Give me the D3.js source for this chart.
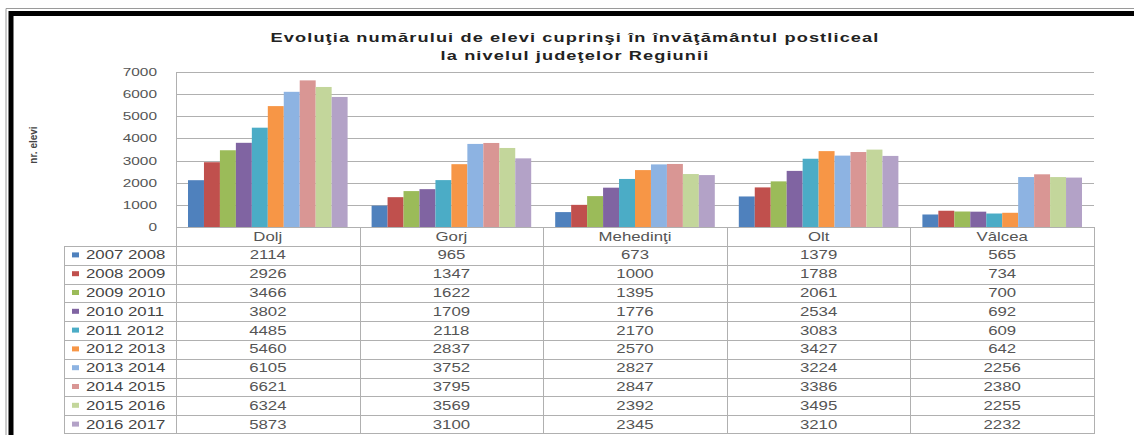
<!DOCTYPE html>
<html>
<head>
<meta charset="utf-8">
<script src="https://cdn.jsdelivr.net/npm/d3@7"></script>
<style>
  body { margin: 0; background: #fff; }
  svg { display: block; font-family: "Liberation Sans", Arial, sans-serif; }
</style>
</head>
<body>
<svg id="chart" width="1134" height="435"></svg>
<script>
(function () {
  // Data.
  let counties = ["Dolj", "Gorj", "Mehedinţi", "Olt", "Vâlcea"];
  let years = ["2007 2008", "2008 2009", "2009 2010", "2010 2011", "2011 2012",
    "2012 2013", "2013 2014", "2014 2015", "2015 2016", "2016 2017"];
  let dolj = [2114, 2926, 3466, 3802, 4485, 5460, 6105, 6621, 6324, 5873];
  let gorj = [965, 1347, 1622, 1709, 2118, 2837, 3752, 3795, 3569, 3100];
  let mehedinti = [673, 1000, 1395, 1776, 2170, 2570, 2827, 2847, 2392, 2345];
  let olt = [1379, 1788, 2061, 2534, 3083, 3427, 3224, 3386, 3495, 3210];
  let valcea = [565, 734, 700, 692, 609, 642, 2256, 2380, 2255, 2232];
  let yTicks = [0, 1000, 2000, 3000, 4000, 5000, 6000, 7000];
  let colors = ["#4f81bd", "#c0504d", "#9bbb59", "#8064a2", "#4bacc6",
    "#f79646", "#8db3e2", "#d99694", "#c3d69b", "#b3a2c7"];

  let values = [dolj, gorj, mehedinti, olt, valcea];
  let sx = 1.4; // the picture is stretched horizontally

  let svg = d3.select("#chart");

  // Frame.
  svg.append("path").attr("d", "M6,435 V8.5 H1134").attr("fill", "none")
    .attr("stroke", "#9a9a9a").attr("stroke-width", 1);
  svg.append("path").attr("d", "M11,435 V13.5 H1134").attr("fill", "none")
    .attr("stroke", "#000").attr("stroke-width", 5);

  // Title.
  function stretchedText(g, x, y, txt) {
    return g.append("text")
      .attr("transform", `translate(${x},${y}) scale(${sx},1)`)
      .text(txt);
  }
  let title = svg.append("g").attr("font-weight", "bold").attr("font-size", 13)
    .attr("fill", "#222").attr("text-anchor", "middle").attr("letter-spacing", 0.8);
  stretchedText(title, 575, 42, "Evoluţia numărului de elevi cuprinşi în învăţământul postliceal");
  stretchedText(title, 575, 60, "la nivelul judeţelor Regiunii");

  // Scales.
  let left = 176, right = 1094, top = 72, base = 227;
  let y = d3.scaleLinear().domain([0, 7000]).range([base, top]);
  let x0 = d3.scaleBand().domain(counties).range([left, right]);
  let x1 = d3.scaleBand().domain(years).range([12, x0.bandwidth() - 12]);

  // Grid lines and y axis.
  svg.append("g").selectAll("line").data(yTicks.filter((d) => d > 0)).enter()
    .append("line")
    .attr("x1", left).attr("x2", right)
    .attr("y1", (d) => Math.round(y(d)) + 0.5).attr("y2", (d) => Math.round(y(d)) + 0.5)
    .attr("stroke", "#b0b0b0");
  svg.append("line").attr("x1", left + 0.5).attr("x2", left + 0.5)
    .attr("y1", top).attr("y2", base).attr("stroke", "#b0b0b0");

  let yl = svg.append("g").attr("font-size", 11).attr("fill", "#555")
    .attr("text-anchor", "end");
  yTicks.forEach((d) => stretchedText(yl, 157, y(d) + 4, d));

  svg.append("text")
    .attr("transform", "translate(37,145) rotate(-90)")
    .attr("text-anchor", "middle").attr("font-size", 10).attr("font-weight", "bold")
    .attr("fill", "#444").text("nr. elevi");

  // Bars.
  let groups = svg.append("g").selectAll("g").data(counties).enter().append("g")
    .attr("transform", (d) => `translate(${x0(d)},0)`);
  groups.selectAll("rect")
    .data((d, i) => values[i].map((v, j) => ({ year: years[j], value: v, k: j })))
    .enter().append("rect")
    .attr("x", (d) => x1(d.year))
    .attr("width", x1.bandwidth())
    .attr("y", (d) => y(d.value))
    .attr("height", (d) => base - y(d.value))
    .attr("fill", (d) => colors[d.k]);

  // Data table.
  let headH = 19, rowH = (434 - base - headH) / years.length, legLeft = 64;
  let grid = svg.append("g").attr("stroke", "#b0b0b0").attr("fill", "none");
  grid.append("line").attr("x1", left).attr("x2", right)
    .attr("y1", base + 0.5).attr("y2", base + 0.5);
  years.forEach((yr, i) => {
    let yy = Math.round(base + headH + i * rowH) + 0.5;
    grid.append("line").attr("x1", legLeft).attr("x2", right).attr("y1", yy).attr("y2", yy);
  });
  grid.append("line").attr("x1", legLeft).attr("x2", right)
    .attr("y1", 433.5).attr("y2", 433.5);
  counties.concat(["end"]).forEach((c, i) => {
    let xx = Math.round(left + i * x0.bandwidth()) + 0.5;
    grid.append("line").attr("x1", xx).attr("x2", xx).attr("y1", base).attr("y2", 434);
  });
  grid.append("line").attr("x1", legLeft + 0.5).attr("x2", legLeft + 0.5)
    .attr("y1", base + headH).attr("y2", 434);

  let tbl = svg.append("g").attr("font-size", 12).attr("fill", "#555");
  let hdr = tbl.append("g").attr("text-anchor", "middle");
  counties.forEach((c) => stretchedText(hdr, x0(c) + x0.bandwidth() / 2, base + 14, c));

  years.forEach((yr, i) => {
    let cy = base + headH + i * rowH + rowH / 2;
    tbl.append("rect").attr("x", 72).attr("y", cy - 3).attr("width", 7).attr("height", 5)
      .attr("fill", colors[i]);
    stretchedText(tbl, 86, cy + 4, yr).attr("fill", "#444");
    counties.forEach((c, j) => {
      stretchedText(tbl, x0(c) + x0.bandwidth() / 2, cy + 4, values[j][i])
        .attr("text-anchor", "middle");
    });
  });
})();
</script>
</body>
</html>
